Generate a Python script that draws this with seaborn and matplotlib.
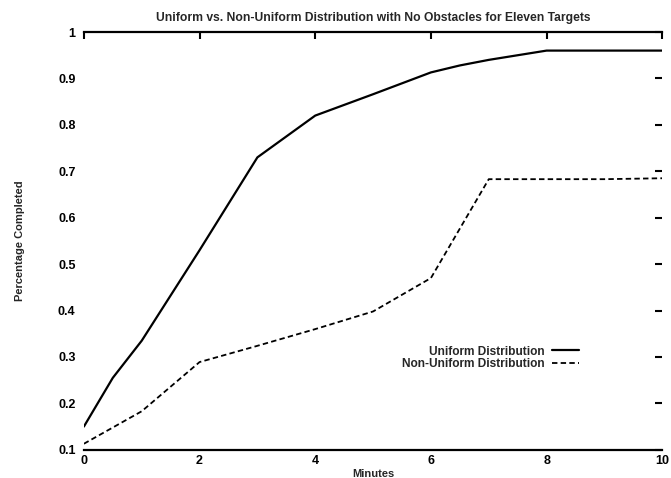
import numpy as np
import pandas as pd
import matplotlib
matplotlib.use("Agg")
import matplotlib.pyplot as plt
import seaborn as sns

# Data
minutes_uniform = [0, 0.5, 1, 2, 3, 3.5, 4, 5, 6, 6.5, 7, 8, 9, 10]
pct_uniform = [0.15, 0.255, 0.335, 0.53, 0.73, 0.775, 0.82, 0.866, 0.913, 0.928, 0.94, 0.96, 0.96, 0.96]
minutes_nonuniform = [0, 1, 2, 3, 4, 5, 6, 7, 8, 9, 10]
pct_nonuniform = [0.113, 0.183, 0.289, 0.324, 0.36, 0.398, 0.47, 0.683, 0.683, 0.683, 0.685]
x_ticks = [0, 2, 4, 6, 8, 10]
y_ticks = [0.1, 0.2, 0.3, 0.4, 0.5, 0.6, 0.7, 0.8, 0.9, 1]
y_tick_labels = ["0.1", "0.2", "0.3", "0.4", "0.5", "0.6", "0.7", "0.8", "0.9", "1"]

sns.set_style("white")
plt.rcParams["font.family"] = ["Liberation Sans", "DejaVu Sans"]
plt.rcParams["font.weight"] = "bold"

fig = plt.figure(figsize=(6.71, 4.78), dpi=100)
ax = fig.add_axes([0.125, 0.059, 0.862, 0.874])

df_u = pd.DataFrame({"Minutes": minutes_uniform, "pct": pct_uniform})
df_n = pd.DataFrame({"Minutes": minutes_nonuniform, "pct": pct_nonuniform})

sns.lineplot(data=df_u, x="Minutes", y="pct", ax=ax, color="black", lw=1.6,
             label="Uniform Distribution")
sns.lineplot(data=df_n, x="Minutes", y="pct", ax=ax, color="black", lw=1.3,
             linestyle=(0, (3, 1.8)), label="Non-Uniform Distribution")

ax.set_xlim(0, 10)
ax.set_ylim(0.1, 1)
ax.set_xticks(x_ticks)
ax.set_yticks(y_ticks)
ax.set_yticklabels(y_tick_labels)

for side in ["left", "right"]:
    ax.spines[side].set_visible(False)
for side in ["top", "bottom"]:
    ax.spines[side].set_linewidth(1.6)
    ax.spines[side].set_color("black")

ax.tick_params(axis="both", which="both", direction="in", length=5, width=1.5,
               top=True, right=True, labelsize=9, colors="black")
ax.tick_params(axis="x", pad=4)
ax.tick_params(axis="y", pad=6)
for lab in ax.get_xticklabels() + ax.get_yticklabels():
    lab.set_fontweight("bold")

ax.set_xlabel("Minutes", fontsize=8, fontweight="bold", labelpad=1)
ax.set_ylabel("Percentage Completed", fontsize=8, fontweight="bold", labelpad=24)
ax.set_title("Uniform vs. Non-Uniform Distribution with No Obstacles for Eleven Targets",
             fontsize=8.7, fontweight="bold", pad=8)

leg = ax.legend(loc="center", bbox_to_anchor=(0.703, 0.22), frameon=False,
                markerfirst=False, fontsize=8.6, handlelength=2.3,
                handletextpad=0.6, labelspacing=0.05)
for t in leg.get_texts():
    t.set_fontweight("bold")
    t.set_ha("right")

fig.savefig("out.png", dpi=100)
